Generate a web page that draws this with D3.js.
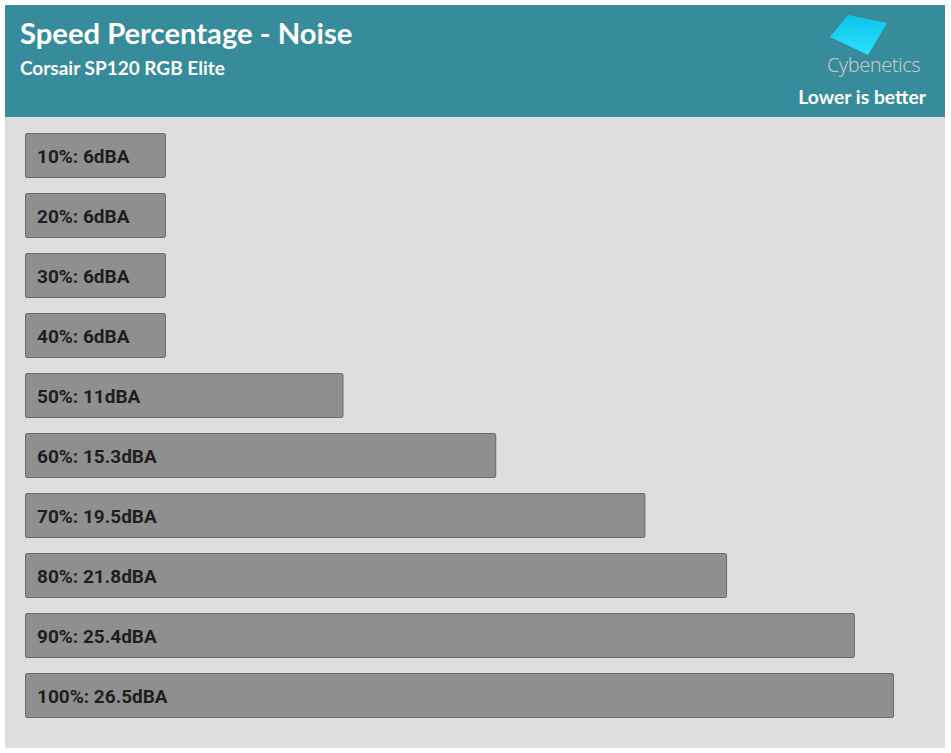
<!DOCTYPE html>
<html><head><meta charset="utf-8">
<script src="https://cdn.jsdelivr.net/npm/d3@7"></script>
<style>body{margin:0;background:#fff;}svg{display:block;}</style>
</head><body>
<svg id="chart" width="951" height="753"></svg>
<script>
const categories = ["10%","20%","30%","40%","50%","60%","70%","80%","90%","100%"];
const values = [6, 6, 6, 6, 11, 15.3, 19.5, 21.8, 25.4, 26.5];
const unit = "dBA";
const title = "Speed Percentage - Noise";
const subtitle = "Corsair SP120 RGB Elite";
const note = "Lower is better";
const brand = "Cybenetics";

const svg = d3.select("#chart");
// panels
svg.append("rect").attr("x",5).attr("y",5).attr("width",940).attr("height",743).attr("fill","#dedede");
svg.append("rect").attr("x",5).attr("y",5).attr("width",940).attr("height",112).attr("fill","#368c9b");

svg.append("text").attr("x",20).attr("y",44).attr("fill","#fff")
  .style("font-family","Lato, 'Open Sans', sans-serif").style("font-weight","700").style("font-size","29.2px")
  .text(title);
svg.append("text").attr("x",20).attr("y",75).attr("fill","#fff")
  .style("font-family","Lato, 'Open Sans', sans-serif").style("font-weight","700").style("font-size","19px")
  .text(subtitle);
svg.append("text").attr("x",926).attr("y",104).attr("fill","#fff").attr("text-anchor","end")
  .style("font-family","Lato, 'Open Sans', sans-serif").style("font-weight","700").style("font-size","19.3px")
  .text(note);

// logo
const defs = svg.append("defs");
const g = defs.append("linearGradient").attr("id","lg").attr("x1","0").attr("y1","0").attr("x2","0").attr("y2","1");
g.append("stop").attr("offset","0").attr("stop-color","#0ac4e6");
g.append("stop").attr("offset","1").attr("stop-color","#2ee0ff");
svg.append("polygon").attr("points","848,15 887,23 868,55 830,37").attr("fill","url(#lg)");
svg.append("text").attr("x",873.5).attr("y",72).attr("text-anchor","middle").attr("fill","#c8c8c8")
  .style("font-family","'Noto Sans', sans-serif").style("font-weight","300").style("font-size","20px")
  .style("letter-spacing","-0.5px").text(brand);

// bars
const x = d3.scaleLinear().domain([2.06, 26.5]).range([25, 893]);
const y = d3.scaleBand().domain(categories).range([133, 733]).paddingInner(16/60).paddingOuter(0).align(0);

const bars = svg.append("g");
categories.forEach((c,i)=>{
  const yy = 133 + i*60;
  bars.append("rect").attr("x",x(x.domain()[0])+0.5).attr("y",yy+0.5)
    .attr("width",x(values[i])-x(x.domain()[0])).attr("height",44)
    .attr("rx",1.5).attr("fill","#8f8f8f").attr("stroke","#6b6b6b").attr("stroke-width",1);
  bars.append("text").attr("x",37).attr("y",yy+30).attr("fill","#1e1e1e")
    .style("font-family","Roboto, sans-serif").style("font-weight","700").style("font-size","19px")
    .text(`${c}: ${values[i]}${unit}`);
});
</script>
</body></html>
